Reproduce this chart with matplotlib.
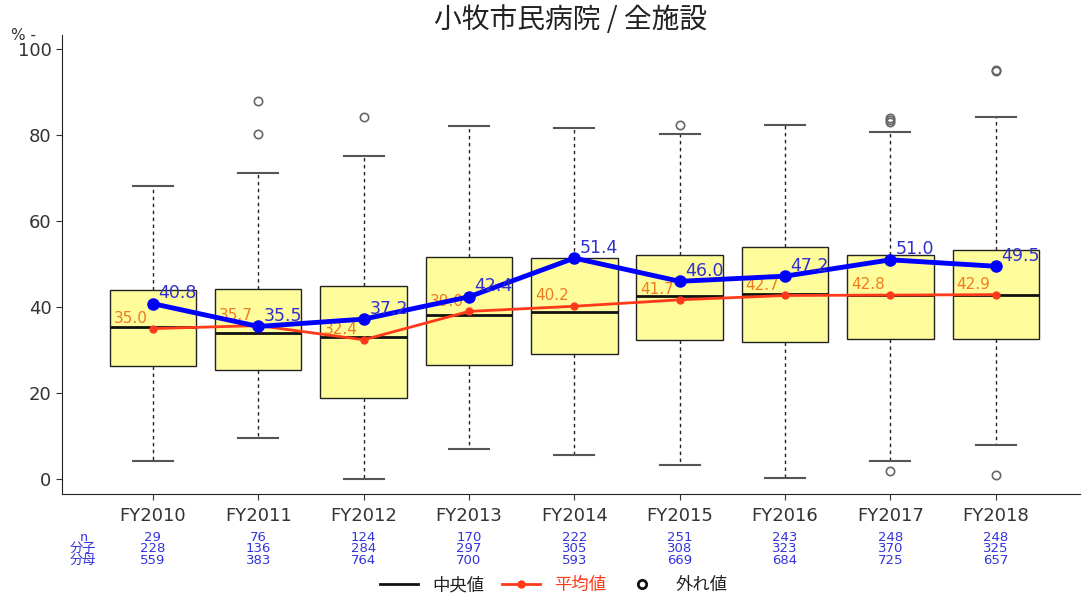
# -*- coding: utf-8 -*-
"""
Box plot per fiscal year with mean / ratio lines
"""

import numpy as np
import matplotlib
matplotlib.use('Agg')
import matplotlib.pyplot as plt
from matplotlib.lines import Line2D

plt.rcParams['font.family'] = ['DejaVu Sans', 'Noto Sans CJK JP']

#%% Data
years = ['FY2010', 'FY2011', 'FY2012', 'FY2013', 'FY2014',
         'FY2015', 'FY2016', 'FY2017', 'FY2018']
q1 = [26.3, 25.3, 18.8, 26.5, 29.1, 32.3, 31.9, 32.6, 32.6]
med = [35.3, 34.0, 33.0, 38.1, 38.8, 42.6, 43.0, 42.8, 42.8]
q3 = [44.0, 44.2, 44.9, 51.6, 51.4, 52.1, 54.0, 52.1, 53.3]
whislo = [4.2, 9.5, 0.0, 7.0, 5.6, 3.3, 0.2, 4.2, 7.9]
whishi = [68.1, 71.2, 75.1, 82.1, 81.6, 80.2, 82.3, 80.7, 84.2]
fliers = [[], [87.9, 80.2], [84.2], [], [], [82.3], [],
          [83.0, 83.5, 84.0, 1.9], [95.1, 95.0, 0.9]]
means = [35.0, 35.7, 32.4, 39.0, 40.2, 41.7, 42.7, 42.8, 42.9]
ratio = [40.8, 35.5, 37.2, 42.4, 51.4, 46.0, 47.2, 51.0, 49.5]
n_cnt = [29, 76, 124, 170, 222, 251, 243, 248, 248]
numer = [228, 136, 284, 297, 305, 308, 323, 370, 325]
denom = [559, 383, 764, 700, 593, 669, 684, 725, 657]

title = '小牧市民病院 / 全施設'
cjk = ['Noto Sans CJK JP', 'DejaVu Sans']

#%% Figure
fig = plt.figure(figsize=(10.86, 6.04), dpi=100)
ax = fig.add_axes([0.0571, 0.182, 0.9374, 0.760])

pos = np.arange(1, len(years) + 1)
stats = []
for i in range(len(years)):
    stats.append({'q1': q1[i], 'med': med[i], 'q3': q3[i],
                  'whislo': whislo[i], 'whishi': whishi[i],
                  'fliers': fliers[i]})

ax.bxp(stats, positions=pos, widths=0.82, patch_artist=True,
       showfliers=True,
       boxprops=dict(facecolor='#FFFC9C', edgecolor='#222222', linewidth=1.0),
       medianprops=dict(color='#111111', linewidth=2.0),
       whiskerprops=dict(color='#222222', linewidth=1.0, linestyle=(0, (2.5, 2.5))),
       capprops=dict(color='#555555', linewidth=1.5),
       capwidths=0.38,
       flierprops=dict(marker='o', markerfacecolor='none', markeredgecolor='#666666',
                       markersize=6, markeredgewidth=1.2))

# mean line
ax.plot(pos, means, color='#FF3A1A', linewidth=2, marker='o', markersize=5,
        markerfacecolor='#FF3A1A', zorder=5)
for x, v in zip(pos, means):
    ax.annotate('%.1f' % v, (x, v), xytext=(-4, 2), textcoords='offset points',
                ha='right', va='bottom', color='#F07A20', fontsize=11, zorder=6)

# ratio line
ax.plot(pos, ratio, color='#0000FF', linewidth=3.5, marker='o', markersize=8,
        zorder=7)
for x, v in zip(pos, ratio):
    ax.annotate('%.1f' % v, (x, v), xytext=(4, 1), textcoords='offset points',
                ha='left', va='bottom', color='#3030D0', fontsize=12.5, zorder=8)

ax.set_xlim(0.137, 9.8)
ax.set_ylim(-3.5, 103.3)
ax.set_yticks([0, 20, 40, 60, 80, 100])
ax.set_xticks(pos)
ax.set_xticklabels(years)
ax.tick_params(axis='both', labelsize=13, colors='#333333', length=4)
ax.tick_params(axis='x', pad=5)
for s in ['top', 'right']:
    ax.spines[s].set_visible(False)
for s in ['left', 'bottom']:
    ax.spines[s].set_color('#222222')

ax.set_title(title, fontsize=20, color='#222222', pad=4, family=cjk)
fig.text(0.010, 0.942, '% -', fontsize=11, color='#333333', va='center')

# counts below the axis
tr = ax.get_xaxis_transform()
rows = [(n_cnt, -0.0937), (numer, -0.1176), (denom, -0.1438)]
for vals, yy in rows:
    for x, v in zip(pos, vals):
        ax.text(x, yy, str(v), transform=tr, ha='center', va='center',
                fontsize=9.5, color='#3333DD')
for lab, yy in zip(['n', '分子', '分母'], [-0.0937, -0.1176, -0.1438]):
    ax.text(0.021, yy, lab, transform=ax.transAxes, ha='center', va='center',
            fontsize=9.5, color='#3333DD', family=cjk)

# legend
handles = [Line2D([], [], color='#111111', linewidth=2),
           Line2D([], [], color='#FF3A1A', linewidth=2, marker='o', markersize=5),
           Line2D([], [], color='none', marker='o', markerfacecolor='none',
                  markeredgecolor='#111111', markeredgewidth=2, markersize=6)]
leg = fig.legend(handles, ['中央値', '平均値', '外れ値'], loc='lower center',
                 bbox_to_anchor=(0.51, -0.01), ncol=3, frameon=False,
                 prop={'family': cjk, 'size': 12.5},
                 handlelength=2.2, columnspacing=1.0, handletextpad=0.8)
for t, c in zip(leg.get_texts(), ['#222222', '#FF3A1A', '#222222']):
    t.set_color(c)

fig.savefig('out.png', dpi=100)
plt.close()
